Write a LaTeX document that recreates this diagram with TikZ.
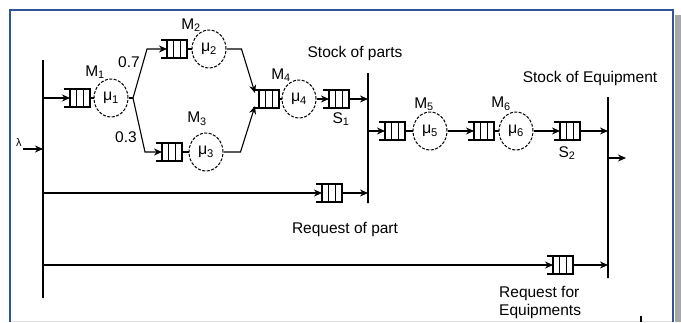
\documentclass[tikz,border=0pt]{standalone}
\usepackage{fontspec}
\setmainfont{Liberation Sans}
\usetikzlibrary{shapes.geometric, arrows.meta, positioning}
\definecolor{framecol}{RGB}{47,85,151}

\begin{document}
\begin{tikzpicture}[
    x=1pt, y=-1pt,
    every node/.style={font=\fontsize{15.5}{18}\selectfont, inner sep=1pt},
    station/.style={ellipse, draw, dash pattern=on 3pt off 1.5pt, line width=1pt, minimum width=34pt, minimum height=38pt, inner sep=0pt, font=\fontsize{16}{18}\selectfont},
    queue/.style={rectangle, minimum width=20pt, minimum height=18pt, inner sep=0pt, outer sep=0pt},
    qline/.style={line width=1.3pt},
    vbar/.style={rectangle, draw, line width=1.3pt, minimum width=0pt, inner sep=0pt, outer sep=0pt},
    arrow/.style={-{Stealth[length=8pt,width=7pt]}, line width=1.1pt},
    link/.style={line width=1.1pt}
]
    \useasboundingbox (0,0) rectangle (681,322);
    % frame
    \fill[gray!70] (675,15) rectangle (681,322);
    \draw[gray!25, line width=1pt] (10,321) -- (673,321);
    \draw[framecol, line width=2pt] (10,322) -- (10,10) -- (673,10) -- (673,322);

    % bars
    \node (bar1) [vbar, minimum height=238pt] at (43,179) {};
    \node (bar2) [vbar, minimum height=130pt] at (368,138) {};
    \node (bar3) [vbar, minimum height=181pt] at (608,187.5) {};

    % queues
    \node (q1)  [queue] at (80,98) {};
    \node (q2)  [queue] at (177,49) {};
    \node (q3)  [queue] at (172,152) {};
    \node (q4)  [queue] at (269,99) {};
    \node (s1q) [queue] at (339,99) {};
    \node (q5)  [queue] at (395,131) {};
    \node (q6)  [queue] at (484,131) {};
    \node (s2q) [queue] at (570,131) {};
    \node (rq1) [queue] at (332,193) {};
    \node (rq2) [queue] at (563,265) {};
    \foreach \q in {q1,q2,q3,q4,s1q,q5,q6,s2q,rq1,rq2} {
        \draw[qline] ([xshift=-6pt]\q.north west) -- (\q.north east) -- (\q.south east) -- ([xshift=-6pt]\q.south west);
        \draw[qline] (\q.north west) -- (\q.south west);
        \draw[qline] ([xshift=6.7pt]\q.north west) -- ([xshift=6.7pt]\q.south west);
        \draw[qline] ([xshift=13.3pt]\q.north west) -- ([xshift=13.3pt]\q.south west);
    }

    % stations
    \node (m1) [station] at (111,98)  {μ\textsubscript{1}};
    \node (m2) [station] at (209,49)  {μ\textsubscript{2}};
    \node (m3) [station] at (206,152) {μ\textsubscript{3}};
    \node (m4) [station] at (299,99)  {μ\textsubscript{4}};
    \node (m5) [station] at (430,131) {μ\textsubscript{5}};
    \node (m6) [station] at (516,131) {μ\textsubscript{6}};

    % labels
    \node (lm1) at (95,72)   {M\textsubscript{1}};
    \node (lm2) at (191,25)  {M\textsubscript{2}};
    \node (lm3) at (197,119) {M\textsubscript{3}};
    \node (lm4) at (281,75)  {M\textsubscript{4}};
    \node (lm5) at (424,104) {M\textsubscript{5}};
    \node (lm6) at (501,104) {M\textsubscript{6}};
    \node (ls1) at (341,119) {S\textsubscript{1}};
    \node (ls2) at (567,153) {S\textsubscript{2}};
    \node (p07) at (129,62)  {0.7};
    \node (p03) at (126,137) {0.3};
    \node (stp) at (355,53)  {Stock of parts};
    \node (ste) at (590,78)  {Stock of Equipment};
    \node (rqp) at (345,229) {Request of part};
    \node (rqe) [anchor=west, align=left] at (498,302) {Request for\\Equipments};
    \node (lam) [font=\fontsize{11}{12}\selectfont] at (19,143) {λ};

    \coordinate (lamin) at (23,149);
    \coordinate (fk) at (133,98);
    \coordinate (out) at (626,158);

    % connectors
    \draw[arrow] (lamin) -- (bar1 |- lamin);
    \draw[arrow] (bar1 |- q1) -- (q1.west);
    \draw[link] (q1) -- (m1);
    \draw[link] (m1) -- (fk);
    \draw[arrow] (fk) -- ([xshift=-20pt]q2.west) -- (q2.west);
    \draw[arrow] (fk) -- ([xshift=-17pt]q3.west) -- (q3.west);
    \draw[link] (q2) -- (m2);
    \draw[link] (q3) -- (m3);
    \draw[arrow] (m2.east) -- ++(15,0) -- ([xshift=-4pt,yshift=6pt]q4.west);
    \draw[arrow] (m3.east) -- ++(17,0) -- ([xshift=-4pt,yshift=-7pt]q4.west);
    \draw[link] (q4) -- (m4);
    \draw[arrow] (m4) -- (s1q.west);
    \draw[arrow] (s1q.east) -- (bar2 |- s1q);
    \draw[arrow] (bar2 |- q5) -- (q5.west);
    \draw[link] (q5) -- (m5);
    \draw[arrow] (m5) -- (q6.west);
    \draw[link] (q6) -- (m6);
    \draw[arrow] (m6) -- (s2q.west);
    \draw[arrow] (s2q.east) -- (bar3 |- s2q);
    \draw[arrow] (bar3 |- out) -- (out);
    \draw[arrow] (bar1 |- rq1) -- (rq1.west);
    \draw[arrow] (rq1.east) -- (bar2 |- rq1);
    \draw[arrow] (bar1 |- rq2) -- (rq2.west);
    \draw[arrow] (rq2.east) -- (bar3 |- rq2);

    \draw[line width=1.5pt] (641,316) -- (641,322);
\end{tikzpicture}
\end{document}
